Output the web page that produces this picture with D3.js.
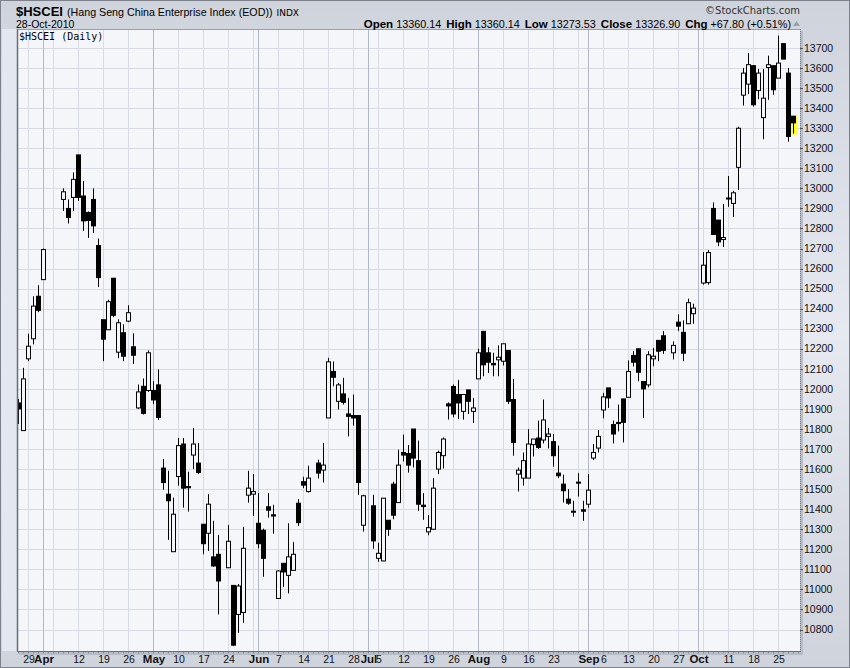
<!DOCTYPE html>
<html><head><meta charset="utf-8">
<script src="https://cdn.jsdelivr.net/npm/d3@7"></script>
<style>body{margin:0;background:#fff}svg{display:block}</style>
</head><body><svg id="c" width="850" height="668"></svg>
<script>
// ---- data (OHLC, $HSCEI daily) ----
const dates = ["2010-03-25","2010-03-26","2010-03-29","2010-03-30","2010-03-31","2010-04-01","2010-04-07","2010-04-08","2010-04-09","2010-04-12","2010-04-13","2010-04-14","2010-04-15","2010-04-16","2010-04-19","2010-04-20","2010-04-21","2010-04-22","2010-04-23","2010-04-26","2010-04-27","2010-04-28","2010-04-29","2010-04-30","2010-05-03","2010-05-04","2010-05-05","2010-05-06","2010-05-07","2010-05-10","2010-05-11","2010-05-12","2010-05-13","2010-05-14","2010-05-17","2010-05-18","2010-05-19","2010-05-20","2010-05-24","2010-05-25","2010-05-26","2010-05-27","2010-05-28","2010-05-31","2010-06-01","2010-06-02","2010-06-03","2010-06-04","2010-06-07","2010-06-08","2010-06-09","2010-06-10","2010-06-11","2010-06-14","2010-06-15","2010-06-17","2010-06-18","2010-06-21","2010-06-22","2010-06-23","2010-06-24","2010-06-25","2010-06-28","2010-06-29","2010-06-30","2010-07-02","2010-07-05","2010-07-06","2010-07-07","2010-07-08","2010-07-09","2010-07-12","2010-07-13","2010-07-14","2010-07-15","2010-07-16","2010-07-19","2010-07-20","2010-07-21","2010-07-22","2010-07-23","2010-07-26","2010-07-27","2010-07-28","2010-07-29","2010-07-30","2010-08-02","2010-08-03","2010-08-04","2010-08-05","2010-08-06","2010-08-09","2010-08-10","2010-08-11","2010-08-12","2010-08-13","2010-08-16","2010-08-17","2010-08-18","2010-08-19","2010-08-20","2010-08-23","2010-08-24","2010-08-25","2010-08-26","2010-08-27","2010-08-30","2010-08-31","2010-09-01","2010-09-02","2010-09-03","2010-09-06","2010-09-07","2010-09-08","2010-09-09","2010-09-10","2010-09-13","2010-09-14","2010-09-15","2010-09-16","2010-09-17","2010-09-20","2010-09-21","2010-09-22","2010-09-24","2010-09-27","2010-09-28","2010-09-29","2010-09-30","2010-10-04","2010-10-05","2010-10-06","2010-10-07","2010-10-08","2010-10-11","2010-10-12","2010-10-13","2010-10-14","2010-10-15","2010-10-18","2010-10-19","2010-10-20","2010-10-21","2010-10-22","2010-10-25","2010-10-26","2010-10-27","2010-10-28"];
const openV = [11930,11792,12150,12250,12462,12545,12945,12900,12955,13167,12962,12880,12945,12715,12345,12295,12552,12183,12280,12338,12210,11905,12013,11992,11992,12020,11605,11475,11188,11563,11725,11513,11670,11630,11325,11280,11162,11175,11108,11020,10875,10885,11470,11475,11330,11295,11412,11372,10955,11130,11070,11095,11430,11537,11488,11630,11595,11855,12087,11938,11975,11875,11867,11867,11320,11417,11155,11142,11345,11525,11433,11683,11678,11800,11642,11420,11287,11300,11600,11667,11925,12012,11972,11888,11995,11888,12050,12287,12180,12127,12145,12138,12192,11947,11575,11555,11555,11722,11755,11745,11763,11737,11580,11525,11450,11390,11535,11397,11425,11655,11705,11895,12005,11822,11833,11950,11958,12167,12200,12037,12020,12150,12242,12265,12180,12333,12282,12325,12375,12528,12530,12900,12842,12745,12948,12925,13105,13465,13520,13612,13488,13353,13603,13612,13550,13722,13575,13360.14];
const highV = [11950,12105,12275,12462,12517,12700,13000,12945,13080,13167,13037,12885,13000,12750,12345,12445,12552,12347,12322,12417,12277,12022,12052,12192,12038,12097,11650,11592,11458,11755,11755,11587,11805,11730,11325,11475,11342,11272,11322,11020,11027,11312,11592,11575,11480,11303,11480,11422,11095,11130,11330,11237,11450,11562,11617,11647,11730,12155,12137,12030,12055,11955,11972,11867,11472,11472,11233,11455,11345,11537,11697,11772,11720,11800,11742,11480,11370,11555,11692,11758,11933,12022,12045,11972,11995,11955,12200,12287,12208,12180,12217,12225,12192,12050,11608,11683,11800,11750,11842,11947,11805,11775,11717,11572,11500,11442,11580,11442,11575,11725,11795,11980,12005,11842,11922,11950,12142,12188,12200,12037,12188,12205,12242,12288,12237,12372,12342,12450,12425,12683,12692,12930,12842,12922,13062,12988,13308,13600,13675,13612,13595,13595,13662,13612,13762,13722,13600,13360.14];
const lowV = [11825,11790,12138,12222,12383,12545,12888,12825,12888,12938,12788,12753,12778,12508,12138,12295,12358,12153,12138,12333,12125,11900,11872,11985,11925,11845,11497,11247,11188,11517,11408,11388,11600,11575,11175,11192,11113,10875,11108,10717,10783,10833,11433,11367,11205,11063,11358,11278,10955,11013,10980,11095,11317,11505,11483,11553,11533,11855,12013,11897,11922,11763,11817,11472,11288,11203,11138,11142,11267,11350,11433,11638,11583,11608,11392,11347,11270,11300,11575,11603,11847,11858,11850,11847,11875,11830,12050,12063,12080,12063,12063,12117,11925,11667,11488,11517,11555,11663,11700,11728,11703,11612,11555,11433,11422,11363,11463,11342,11408,11645,11683,11853,11905,11728,11788,11733,11958,12112,12038,11855,12008,12113,12138,12175,12147,12288,12138,12325,12325,12520,12520,12770,12712,12708,12908,12858,12992,13413,13470,13408,13445,13245,13442,13467,13550,13645,13233,13273.53];
const closeV = [11900,12050,12213,12413,12392,12695,12983,12855,13045,12955,12838,12840,12813,12555,12248,12435,12367,12330,12163,12380,12168,11985,11878,12180,11945,11858,11533,11442,11375,11717,11505,11507,11725,11583,11228,11425,11117,11042,11240,10722,11017,11205,11505,11488,11228,11155,11395,11366,11092,11087,11162,11175,11333,11520,11555,11580,11620,12135,12058,12020,11933,11863,11855,11533,11467,11242,11180,11455,11300,11370,11620,11670,11620,11655,11425,11413,11308,11505,11683,11750,11915,11875,11930,11972,11938,11905,12180,12120,12133,12120,12158,12225,11938,11733,11595,11642,11725,11750,11708,11845,11775,11667,11567,11492,11430,11385,11530,11390,11495,11683,11763,11960,11955,11775,11827,11833,12087,12133,12083,12000,12170,12163,12188,12192,12217,12313,12178,12430,12403,12617,12680,12770,12733,12755,12952,12978,13300,13575,13617,13417,13575,13450,13617,13492,13625,13645,13259.10,13326.90];

// axis tick labels
const yTicks = d3.range(10800, 13701, 100);
const xTickDates = ["2010-03-29","2010-04-01","2010-04-12","2010-04-19","2010-04-26","2010-05-03","2010-05-10","2010-05-17","2010-05-24","2010-06-01","2010-06-07","2010-06-14","2010-06-21","2010-06-28","2010-07-01","2010-07-05","2010-07-12","2010-07-19","2010-07-26","2010-08-02","2010-08-09","2010-08-16","2010-08-23","2010-09-01","2010-09-06","2010-09-13","2010-09-20","2010-09-27","2010-10-01","2010-10-11","2010-10-18","2010-10-25"];
const xTickLabels = ["29","Apr","12","19","26","May","10","17","24","Jun","7","14","21","28","Jul","5","12","19","26","Aug","9","16","23","Sep","6","13","20","27","Oct","11","18","25"];
const monthStarts = ["2010-04-01","2010-05-03","2010-06-01","2010-07-01","2010-08-02","2010-09-01","2010-10-01"];

// ---- layout ----
const W = 850, H = 668;
const PL = 17, PR = 800, PT = 29, PB = 651;
const FONT = "'Liberation Sans', Arial, sans-serif";
const parse = d3.timeParse("%Y-%m-%d");
const day0 = parse("2010-03-29");
function wdIndex(s) {
  const d = parse(s);
  const n = Math.round(d3.timeDay.count(day0, d));
  const weeks = Math.floor(n / 7);
  return weeks * 5 + (d.getDay() - 1);
}
const x = d3.scaleLinear().domain([0, 150]).range([28.5, 778.5]);
const y = d3.scaleLinear().domain([10800, 13700]).range([629.5, 48.05]);

const data = dates.map((d, i) => ({idx: wdIndex(d), o: openV[i], h: highV[i], l: lowV[i], c: closeV[i]}));

const svg = d3.select("#c");
const defs = svg.append("defs");
const g1 = defs.append("linearGradient").attr("id", "bg").attr("x1", 0).attr("y1", 0).attr("x2", 0).attr("y2", 1);
g1.append("stop").attr("offset", "0%").attr("stop-color", "#cfd3dc");
g1.append("stop").attr("offset", "50%").attr("stop-color", "#e6e9f0");
g1.append("stop").attr("offset", "100%").attr("stop-color", "#cfd3dc");
defs.append("clipPath").attr("id", "pc").append("rect")
  .attr("x", PL + 0.5).attr("y", PT).attr("width", PR - PL - 0.5).attr("height", PB - PT);

svg.append("rect").attr("x", 0.5).attr("y", 0.5).attr("width", W - 1).attr("height", H - 1)
  .attr("fill", "url(#bg)").attr("stroke", "#7c818c");
svg.append("rect").attr("x", 2).attr("y", PT).attr("width", PL - 2).attr("height", PB - PT)
  .attr("fill", "#e3e7ef");

// shadow + plot bg
svg.append("rect").attr("x", PL + 2).attr("y", PT + 2).attr("width", PR - PL + 1).attr("height", PB - PT + 2)
  .attr("fill", "#b9bdc7");
svg.append("rect").attr("x", PL).attr("y", PT).attr("width", PR - PL).attr("height", PB - PT)
  .attr("fill", "#f5f6fa");

// grid
const grid = svg.append("g");
grid.selectAll(".hg").data(yTicks).join("line")
  .attr("x1", PL).attr("x2", PR)
  .attr("y1", d => Math.round(y(d)) + 0.5).attr("y2", d => Math.round(y(d)) + 0.5)
  .attr("stroke", "#d9dbe2").attr("stroke-width", 1);
const mondays = d3.range(0, 151, 5);
grid.selectAll(".vg").data(mondays).join("line")
  .attr("x1", d => Math.floor(x(d)) + 0.5).attr("x2", d => Math.floor(x(d)) + 0.5)
  .attr("y1", PT).attr("y2", PB)
  .attr("stroke", "#d9dbe2");
grid.selectAll(".mg").data(monthStarts).join("line")
  .attr("x1", d => Math.floor(x(wdIndex(d))) + 0.5).attr("x2", d => Math.floor(x(wdIndex(d))) + 0.5)
  .attr("y1", PT).attr("y2", PB)
  .attr("stroke", "#b4b8c4");

// yellow highlight for last bar
const last = data[data.length - 1];
svg.append("rect").attr("x", Math.floor(x(last.idx)) - 3).attr("y", y(last.h) - 1)
  .attr("width", 7).attr("height", y(last.l) - y(last.h) + 2).attr("fill", "#ffff33");

// candles
const cg = svg.append("g").attr("clip-path", "url(#pc)");
const cands = cg.selectAll("g.k").data(data).join("g");
cands.append("line")
  .attr("x1", d => Math.floor(x(d.idx)) + 0.5).attr("x2", d => Math.floor(x(d.idx)) + 0.5)
  .attr("y1", d => y(d.h)).attr("y2", d => y(d.l))
  .attr("stroke", "#000").attr("stroke-width", 1);
cands.append("rect")
  .attr("x", d => Math.floor(x(d.idx)) - 1.5)
  .attr("width", 4)
  .attr("y", d => y(Math.max(d.o, d.c)))
  .attr("height", d => Math.max(1, Math.abs(y(d.o) - y(d.c))))
  .attr("fill", d => d.c >= d.o ? "#f5f6fa" : "#000")
  .attr("stroke", "#000").attr("stroke-width", 1);

// borders
svg.append("line").attr("x1", PL).attr("x2", PR).attr("y1", PT + 0.5).attr("y2", PT + 0.5).attr("stroke", "#9a9ea8");
svg.append("line").attr("x1", PL + 0.5).attr("x2", PL + 0.5).attr("y1", PT).attr("y2", PB).attr("stroke", "#6a6e78").attr("stroke-width", 1.5);
svg.append("line").attr("x1", PL).attr("x2", PR + 1).attr("y1", PB + 0.5).attr("y2", PB + 0.5).attr("stroke", "#6a6e78");
svg.append("line").attr("x1", PR + 0.5).attr("x2", PR + 0.5).attr("y1", PT).attr("y2", PB)
  .attr("stroke", "#7a7e88").attr("stroke-dasharray", "1,1");

// day ticks on bottom axis
svg.append("g").selectAll("line").data(d3.range(-2, 155)).join("line")
  .attr("x1", d => Math.floor(x(d)) + 0.5).attr("x2", d => Math.floor(x(d)) + 0.5)
  .attr("y1", PB + 1).attr("y2", PB + 2.5).attr("stroke", "#8a8e98");

// y axis labels (right)
svg.append("g").selectAll("text").data(yTicks).join("text")
  .attr("x", 804).attr("y", d => y(d)).attr("dy", "0.35em")
  .attr("font-family", FONT).attr("font-size", 10.5).attr("fill", "#111")
  .text(d => d);
svg.append("g").selectAll("line").data(yTicks).join("line")
  .attr("x1", PR).attr("x2", PR + 3).attr("y1", d => Math.round(y(d)) + 0.5).attr("y2", d => Math.round(y(d)) + 0.5)
  .attr("stroke", "#555");

// x axis labels
svg.append("g").selectAll("text").data(xTickDates).join("text")
  .attr("x", d => x(wdIndex(d)) + 0.5).attr("y", 663)
  .attr("text-anchor", "middle")
  .attr("font-family", FONT)
  .attr("font-size", (d, i) => isNaN(+xTickLabels[i]) ? 11.5 : 10.5)
  .attr("font-weight", (d, i) => isNaN(+xTickLabels[i]) ? "bold" : "normal")
  .attr("fill", "#111")
  .text((d, i) => xTickLabels[i]);

// header
const t1 = svg.append("text").attr("x", 16).attr("y", 16).attr("font-family", FONT).attr("fill", "#000");
t1.append("tspan").attr("font-weight", "bold").attr("font-size", 13).text("$HSCEI");
t1.append("tspan").attr("font-size", 10.7).attr("dx", 4).text("(Hang Seng China Enterprise Index (EOD))");
t1.append("tspan").attr("font-size", 9).attr("dx", 4).attr("font-family", "'DejaVu Sans', sans-serif").text("INDX");
svg.append("text").attr("x", 16).attr("y", 27.5).attr("font-family", FONT).attr("font-size", 10.5).text("28-Oct-2010");

const t2 = svg.append("text").attr("x", 791).attr("y", 27.5).attr("text-anchor", "end").attr("font-family", FONT).attr("fill", "#000");
const hdr = [["Open", "13360.14"], ["High", "13360.14"], ["Low", "13273.53"], ["Close", "13326.90"], ["Chg", "+67.80 (+0.51%)"]];
hdr.forEach((p, i) => {
  t2.append("tspan").attr("font-weight", "bold").attr("font-size", 11.5).attr("dx", i ? 5 : 0).text(p[0]);
  t2.append("tspan").attr("font-size", 10.8).attr("dx", 3).text(p[1]);
});
svg.append("path").attr("d", "M793,26 L800,26 L796.5,21 Z").attr("fill", "#9aa0aa");
svg.append("text").attr("x", 800).attr("y", 14).attr("text-anchor", "end").attr("font-family", "'DejaVu Sans', sans-serif")
  .attr("font-size", 10).attr("fill", "#333").text("©StockCharts.com");

svg.append("text").attr("x", 19).attr("y", 40).attr("font-family", "'DejaVu Sans Mono', monospace")
  .attr("font-size", 10).attr("fill", "#000").text("$HSCEI (Daily)");
</script>
</body></html>
